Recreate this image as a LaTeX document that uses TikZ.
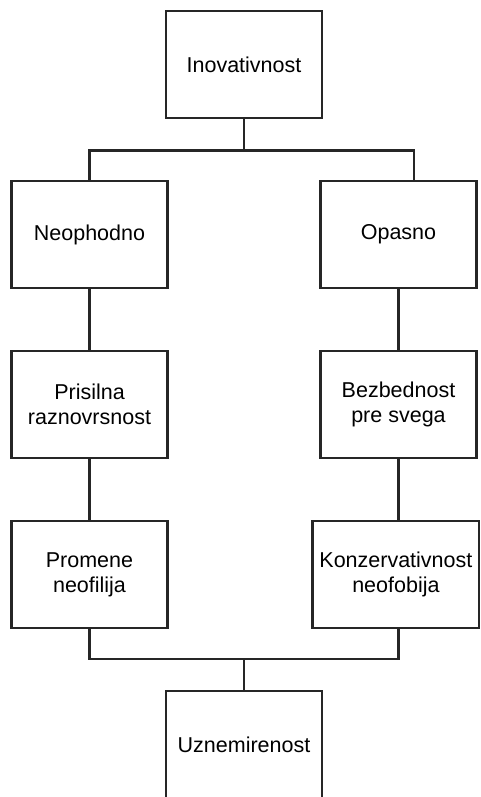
\documentclass[tikz,border=0pt]{standalone}
\usepackage{fontspec}
\setmainfont{Liberation Sans}
\usepackage{tikz}
\tikzstyle{block} = [rectangle, minimum width=156pt, minimum height=107pt, inner sep=0pt, align=center, draw=black!85, line width=2.5pt, font=\fontsize{21.5}{25}\selectfont]
\tikzstyle{line} = [draw=black!85, line width=2.5pt]

\begin{document}
\begin{tikzpicture}[node distance=170pt]
	\useasboundingbox (0,0) rectangle (480pt,-797pt);

	\node (inov) [block] at (244pt,-64.5pt) {Inovativnost};
	\node (neo) [block, below of=inov, xshift=-154.5pt] {Neophodno};
	\node (opa) [block, below of=inov, xshift=154.5pt] {Opasno};
	\node (pri) [block, below of=neo] {Prisilna\\raznovrsnost};
	\node (bez) [block, below of=opa] {Bezbednost\\pre svega};
	\node (pro) [block, below of=pri] {Promene\\neofilija};
	\node (kon) [block, below of=bez, xshift=-2.6pt, minimum width=166.6pt] {Konzervativnost\\neofobija};
	\node (uzn) [block, below of=pro, xshift=154.5pt] {Uznemirenost};

	\draw [line] (inov.south) -- ++(0,-31pt) coordinate (topjoin);
	\draw [line] (neo.north) |- (topjoin) -| ([xshift=15.5pt]opa.north);
	\draw [line] (neo) -- (pri);
	\draw [line] (opa.south) -- (opa.south |- bez.north);
	\draw [line] (pri) -- (pro);
	\draw [line] (bez.south) -- (bez.south |- kon.north);
	\draw [line] (uzn.north) -- ++(0,31pt) coordinate (botjoin);
	\draw [line] (pro.south) |- (botjoin) -| (bez.south |- kon.south);

\end{tikzpicture}
\end{document}
